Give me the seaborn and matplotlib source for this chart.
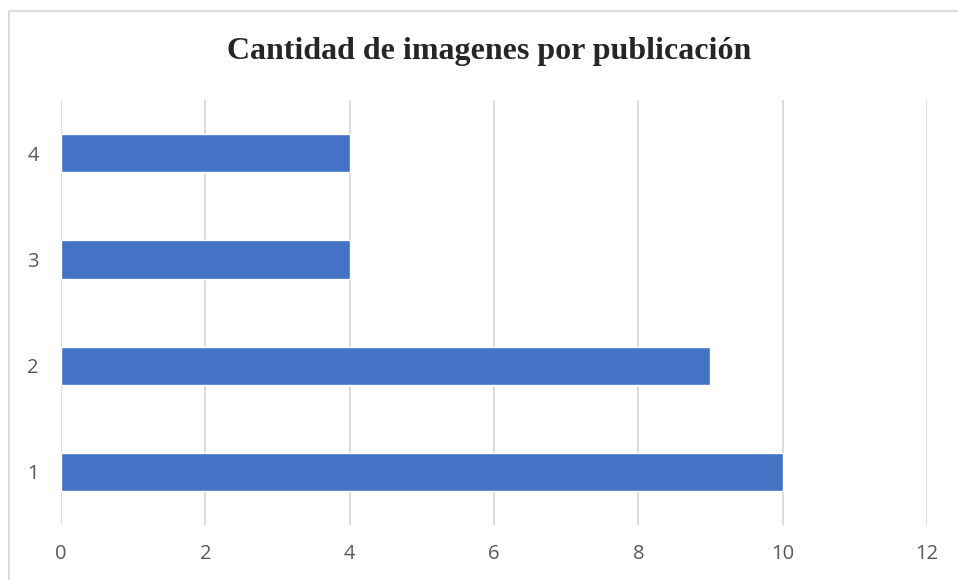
import seaborn as sns
import matplotlib.pyplot as plt
import pandas as pd

# Datos del gráfico
publicaciones = ["4", "3", "2", "1"]
imagenes = [4, 4, 9, 10]
ticks_x = [0, 2, 4, 6, 8, 10, 12]

df = pd.DataFrame({"publicacion": publicaciones, "imagenes": imagenes})

sns.set_style("white")
fig = plt.figure(figsize=(9.58, 5.8), dpi=100)
ax = fig.add_axes([61 / 958, 1 - 525 / 580, 866 / 958, 425 / 580])

sns.barplot(data=df, x="imagenes", y="publicacion", order=publicaciones,
            color="#4472C4", saturation=1, width=0.36, ax=ax, zorder=3)

ax.set_xlim(0, 12)
ax.set_xticks(ticks_x)
ax.set_ylim(3.5, -0.5)
ax.grid(axis="x", color="#D9D9D9", linewidth=1.3, zorder=0)
ax.set_axisbelow(True)
for s in ax.spines.values():
    s.set_visible(False)
ax.tick_params(axis="both", length=0, labelsize=14.5, labelcolor="#595959")
ax.tick_params(axis="x", pad=14)
ax.tick_params(axis="y", pad=16)
for lbl in ax.get_xticklabels() + ax.get_yticklabels():
    lbl.set_fontfamily("Open Sans")
ax.set_xlabel("")
ax.set_ylabel("")

fig.text(489 / 958, 1 - 52 / 580, "Cantidad de imagenes por publicación",
         ha="center", va="center", fontsize=23, fontweight="bold",
         family="Liberation Serif", color="#262626")

# Borde del área del gráfico
borde = plt.Rectangle((8.5 / 958, -0.05), 1.0, 1 - 10.5 / 580 + 0.05,
                      transform=fig.transFigure, fill=False,
                      edgecolor="#D9D9D9", linewidth=1.3)
fig.patches.append(borde)

plt.savefig("out.png", dpi=100)
